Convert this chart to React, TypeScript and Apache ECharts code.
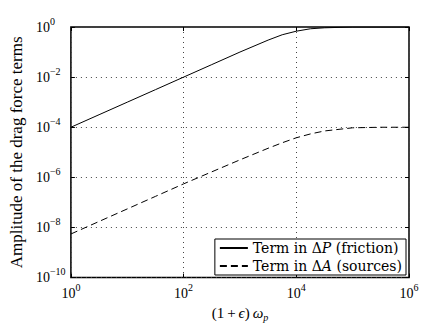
import React, { useEffect, useRef } from 'react';
import * as echarts from 'echarts';

// x positions (1 + eps) * omega_p
const xValues = [1, 3.162, 10, 31.62, 100, 316.2, 1000, 3162, 5623, 10000, 17783, 31623, 100000, 316228, 1000000];
// Term in ΔP (friction)
const frictionValues = [1e-4, 3.16e-4, 1e-3, 3.16e-3, 1e-2, 3.16e-2, 0.1, 0.3, 0.49, 0.68, 0.85, 0.93, 1, 1, 1];
// Term in ΔA (sources)
const sourcesValues = [5.5e-9, 1.74e-8, 5.5e-8, 1.74e-7, 5.5e-7, 1.66e-6, 5.0e-6, 1.45e-5, 2.4e-5, 3.8e-5, 5.4e-5, 7.1e-5, 9.5e-5, 1e-4, 1e-4];

const seriesNames = ['Term in ΔP (friction)', 'Term in ΔA (sources)'];
const legendRich = ['{n|Term in Δ}{i|P}{n| (friction)}', '{n|Term in Δ}{i|A}{n| (sources)}'];

const FONT = 'Liberation Serif';
const LFONT = 'DejaVu Serif';

const expLabel = (v: number) => {
  const e = Math.round(Math.log10(v));
  return `{b|10}{s|${e < 0 ? '−' + Math.abs(e) : e}}`;
};

const labelRich = {
  b: { fontSize: 14, fontFamily: FONT, fontStyle: 'normal', color: '#000', lineHeight: 22 },
  s: { fontSize: 10, fontFamily: FONT, fontStyle: 'normal', color: '#000', lineHeight: 10, verticalAlign: 'top' as const },
};

export default function App() {
  const ref = useRef<HTMLDivElement>(null);
  useEffect(() => {
    if (!ref.current) return;
    const chart = echarts.init(ref.current, null, { renderer: 'svg' });
    const mk = (ys: number[]) => xValues.map((x, i) => [x, ys[i]]);
    chart.setOption({
      animation: false,
      backgroundColor: '#fff',
      textStyle: { fontFamily: FONT },
      grid: { left: 65, right: 16, top: 27, bottom: 46, show: true, borderColor: '#000', borderWidth: 1.5, backgroundColor: 'transparent' },
      xAxis: [
        {
          type: 'log', logBase: 100, min: 1, max: 1e6, position: 'bottom',
          axisLine: { show: false },
          axisTick: { inside: true, length: 4, lineStyle: { color: '#000' } },
          axisLabel: { formatter: expLabel, rich: labelRich, margin: 5, fontFamily: FONT, fontSize: 14, color: '#000' },
          splitLine: { show: true, lineStyle: { type: [1, 4], color: '#444', width: 1 } },
          name: '(1\u2009+\u2009{i|ϵ})\u2009{i|ω}{sub|p}',
          nameLocation: 'middle', nameGap: 25,
          nameTextStyle: {
            fontFamily: FONT, fontSize: 15, color: '#000',
            rich: {
              i: { fontFamily: FONT, fontSize: 15, fontStyle: 'italic', color: '#000', lineHeight: 18 },
              sub: { fontFamily: FONT, fontSize: 10, fontStyle: 'italic', color: '#000', lineHeight: 10, verticalAlign: 'bottom' },
            },
          },
        },
        {
          type: 'log', logBase: 100, min: 1, max: 1e6, position: 'top',
          axisLine: { show: false },
          axisTick: { inside: true, length: 4, lineStyle: { color: '#000' } },
          axisLabel: { show: false },
          splitLine: { show: false },
        },
      ],
      yAxis: [
        {
          type: 'log', logBase: 100, min: 1e-10, max: 1, position: 'left',
          axisLine: { show: false },
          axisTick: { inside: true, length: 4, lineStyle: { color: '#000' } },
          axisLabel: { formatter: expLabel, rich: labelRich, margin: 35, align: 'left', fontFamily: FONT, fontSize: 14, color: '#000' },
          splitLine: { show: true, lineStyle: { type: [1, 4], color: '#444', width: 1 } },
          name: 'Amplitude of the drag force terms',
          nameLocation: 'middle', nameGap: 43,
          nameTextStyle: { fontFamily: FONT, fontSize: 17, color: '#000' },
        },
        {
          type: 'log', logBase: 100, min: 1e-10, max: 1, position: 'right',
          axisLine: { show: false },
          axisTick: { inside: true, length: 4, lineStyle: { color: '#000' } },
          axisLabel: { show: false },
          splitLine: { show: false },
        },
      ],
      legend: {
        orient: 'vertical', right: 19, top: 239,
        itemWidth: 28, itemHeight: 14, itemGap: 4,
        padding: [2, 4, 2, 4],
        borderColor: '#000', borderWidth: 1, backgroundColor: '#fff',
        selectedMode: false,
        data: seriesNames,
        itemStyle: { opacity: 0, color: 'transparent', borderWidth: 0 },
        formatter: (name: string) => legendRich[seriesNames.indexOf(name)],
        textStyle: {
          fontFamily: LFONT, fontSize: 14, color: '#000',
          rich: {
            n: { fontFamily: LFONT, fontSize: 14, fontStyle: 'normal', color: '#000' },
            i: { fontFamily: LFONT, fontSize: 14, fontStyle: 'italic', color: '#000' },
          },
        },
      },
      series: [
        {
          name: seriesNames[0], type: 'line', data: mk(frictionValues), symbol: 'none',
          lineStyle: { color: '#000', width: 1 }, itemStyle: { color: '#000' },
          xAxisIndex: 0, yAxisIndex: 0,
        },
        {
          name: seriesNames[1], type: 'line', data: mk(sourcesValues), symbol: 'none',
          lineStyle: { color: '#000', width: 1, type: [7, 4] }, itemStyle: { color: '#000' },
          xAxisIndex: 0, yAxisIndex: 0,
        },
      ],
    });
    return () => chart.dispose();
  }, []);
  return <div ref={ref} style={{ width: 425, height: 327, position: 'absolute', left: 0, top: 0 }} />;
}
